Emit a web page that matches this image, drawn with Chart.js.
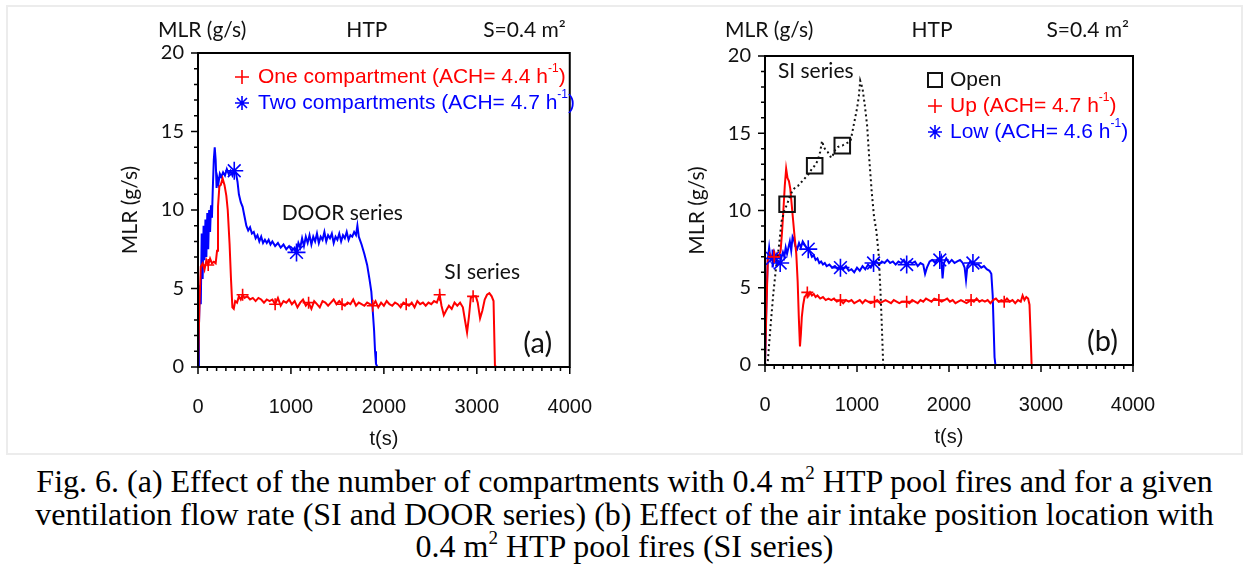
<!DOCTYPE html>
<html>
<head>
<meta charset="utf-8">
<script src="https://cdn.jsdelivr.net/npm/chart.js@4.4.0/dist/chart.umd.min.js"></script>
<style>
  html, body { margin: 0; padding: 0; background: #fff; }
  #fig { position: relative; width: 1249px; height: 567px; overflow: hidden; }
  #frame { position: absolute; left: 6px; top: 5px; width: 1233px; height: 446px; border: 2px solid #ececec; }
  canvas { position: absolute; top: 0; }
  #cA { left: 0; }
  #cB { left: 620px; }
  #caption { position: absolute; left: 0; top: 465px; width: 1249px; text-align: center;
    font-family: "Liberation Serif", "Times New Roman", serif; font-size: 32px; line-height: 32.5px; color: #000; }
  #caption sup { font-size: 19px; vertical-align: 13px; line-height: 0; }
</style>
</head>
<body>
<div id="fig">
  <div id="frame"></div>
  <canvas id="cA" width="620" height="455"></canvas>
  <canvas id="cB" width="629" height="455"></canvas>
  <div id="caption">Fig. 6. (a) Effect of the number of compartments with 0.4 m<sup>2</sup> HTP pool fires and for a given<br>ventilation flow rate (SI and DOOR series) (b) Effect of the air intake position location with<br>0.4 m<sup>2</sup> HTP pool fires (SI series)</div>
</div>
<script>
// (a) one compartment, red
const oneCompT = [0,15,30,50,70,90,110,130,150,170,190,205,215,230,245,265,285,305,320,340,355,370,385,400,420,440,460,480,500,530,560,590,620,650,680,710,740,770,800,830,860,890,920,950,980,1010,1040,1070,1100,1130,1160,1190,1220,1250,1280,1310,1340,1370,1400,1430,1460,1490,1520,1550,1580,1610,1640,1670,1700,1730,1760,1790,1820,1850,1880,1910,1940,1970,2000,2030,2060,2090,2120,2150,2180,2210,2240,2270,2300,2330,2360,2390,2420,2450,2480,2510,2540,2570,2600,2620,2645,2670,2700,2730,2760,2790,2820,2850,2875,2895,2915,2935,2960,2990,3010,3035,3060,3085,3110,3135,3160,3180,3195,3210,3380];
const oneCompV = [0,3.8,6.4,6.6,6.2,6.8,6.5,6.9,6.6,6.7,6.6,7.4,10.2,11.5,11.6,12.0,11.6,10.9,10.0,7.8,5.6,3.8,3.7,4.2,4.1,4.5,4.3,4.6,4.4,4.5,4.3,4.4,4.2,4.4,4.3,4.1,4.3,4.2,4.3,4.0,4.4,3.9,4.2,4.1,4.3,4.0,4.2,3.8,4.1,4.3,3.9,4.1,3.7,4.2,4.0,3.8,4.2,4.1,3.9,4.1,4.3,4.0,4.2,4.0,3.9,4.1,4.0,4.3,3.9,4.1,4.0,3.9,4.1,4.0,3.9,4.2,3.8,4.1,3.9,4.2,4.0,3.9,4.1,4.0,3.8,4.1,4.0,3.9,4.1,3.8,4.2,4.0,4.1,3.9,4.1,4.0,4.2,4.1,4.6,3.9,3.3,3.6,3.9,3.7,4.1,3.9,4.1,3.8,2.9,2.2,3.2,4.4,4.5,4.5,4.1,3.1,3.6,4.3,4.6,4.7,4.5,4.2,0.1,0,0];
const oneCompMarks = [110,480,830,1190,1550,1880,2240,2600,2960];

// (a) two compartments, blue
const twoCompT = [0,10,20,30,40,50,60,70,80,90,100,110,120,130,140,150,160,170,180,190,200,210,220,235,250,270,290,310,330,350,370,390,410,425,440,460,480,500,520,540,560,580,600,620,640,660,680,700,720,740,760,780,800,830,860,890,920,950,980,1010,1040,1060,1080,1100,1120,1140,1160,1180,1200,1220,1240,1260,1280,1300,1320,1340,1360,1380,1400,1420,1440,1460,1480,1500,1520,1540,1560,1580,1600,1620,1640,1660,1680,1700,1715,1730,1760,1790,1820,1845,1865,1880,1895,1905,1915,1930,1990];
const twoCompV = [0,2.5,5.2,4.0,8.5,5.6,9.0,6.8,9.4,7.0,9.8,7.5,10.0,8.6,10.3,9.5,11.5,13.2,14.0,13.2,11.4,12.0,11.7,12.3,12.1,12.4,12.2,12.6,12.3,12.5,12.2,12.5,12.3,11.8,11.0,10.5,10.2,9.6,9.0,8.7,8.9,8.5,8.6,8.2,8.4,8.0,8.3,7.9,8.1,7.9,8.1,7.8,8.0,7.7,7.9,7.6,7.8,7.5,7.7,7.4,7.6,7.3,7.9,7.6,8.2,7.7,8.3,7.9,8.4,7.8,8.3,8.0,8.5,7.9,8.3,8.1,8.6,8.0,8.4,8.2,8.5,7.9,8.3,8.1,8.5,8.0,8.4,8.2,8.6,8.1,8.4,8.3,8.6,8.4,9.0,8.3,7.8,7.2,6.5,5.6,4.8,3.6,2.3,1.0,0.2,0,0];
const twoCompMarks = [390,1060];

// (b) open, black dotted
const openT = [0,30,60,90,120,150,180,210,240,270,300,330,360,390,420,450,480,510,540,570,600,620,640,660,680,700,720,740,760,790,820,840,870,900,930,960,980,1000,1020,1035,1060,1085,1110,1135,1160,1185,1210,1235,1255,1270,1285];
const openV = [0,0.2,2.5,4.6,6.3,7.6,9.3,10.0,10.4,10.9,11.3,11.5,11.6,11.8,12.0,12.2,12.4,12.7,12.9,13.2,13.8,14.5,14.1,13.9,13.8,13.6,13.4,13.6,13.9,14.1,14.2,14.2,14.3,14.4,14.5,15.4,16.0,16.6,17.4,18.4,17.9,16.8,15.5,13.2,11.2,9.6,8.7,7.2,4.8,2.5,0];
const openMarks = [240,540,840];

// (b) up, red
const upT = [0,15,30,50,70,90,100,110,130,150,170,185,200,215,230,245,260,275,290,305,320,340,355,368,380,390,400,415,430,445,460,475,490,510,530,550,570,600,630,660,690,720,750,780,820,850,880,910,940,970,1000,1030,1060,1090,1120,1150,1190,1220,1250,1280,1310,1340,1370,1400,1430,1460,1490,1540,1570,1600,1630,1660,1690,1720,1750,1780,1810,1840,1890,1920,1950,1980,2010,2040,2070,2100,2130,2160,2190,2240,2270,2300,2330,2360,2390,2420,2450,2480,2510,2540,2570,2600,2630,2660,2690,2720,2750,2780,2800,2820,2840,2860,2875,2888,2898,3190];
const upV = [0,3.5,6.8,7.2,6.9,7.3,7.0,6.9,7.2,7.0,7.4,8.6,10.0,11.6,12.7,12.1,11.9,11.4,10.4,9.4,8.4,7.2,5.4,3.0,1.2,2.0,3.1,3.9,4.4,4.5,4.7,4.5,4.7,4.5,4.6,4.4,4.5,4.3,4.4,4.2,4.3,4.2,4.3,4.1,4.2,4.0,4.2,4.1,4.2,4.0,4.1,4.2,4.0,4.2,4.1,4.0,4.1,4.2,4.0,4.1,4.2,4.1,4.0,4.2,4.1,4.0,4.1,4.1,4.0,4.2,4.1,4.0,4.2,4.1,4.3,4.2,4.1,4.3,4.2,4.1,4.2,4.3,4.1,4.2,4.0,4.1,4.2,4.1,4.0,4.2,4.1,4.3,4.1,4.2,4.1,4.2,4.0,4.2,4.3,4.1,4.2,4.1,4.3,4.1,4.2,4.0,4.2,4.1,4.5,4.2,4.4,4.3,3.9,1.8,0,0];
const upMarks = [100,460,820,1190,1540,1890,2240,2600];

// (b) low, blue
const lowT = [0,15,30,45,60,75,80,90,105,120,135,150,165,180,195,210,225,240,255,270,285,300,315,330,350,370,390,410,430,450,470,490,510,530,550,570,590,610,630,650,670,700,730,760,790,820,850,880,910,940,970,1000,1030,1060,1090,1120,1150,1180,1210,1240,1270,1300,1330,1360,1390,1420,1450,1480,1510,1540,1570,1600,1630,1660,1690,1720,1740,1760,1790,1820,1850,1880,1900,1915,1930,1945,1970,2000,2030,2060,2090,2120,2150,2170,2185,2200,2230,2260,2290,2320,2350,2380,2410,2440,2460,2475,2485,2495,2505,2790];
const lowV = [0,4.0,6.8,7.6,6.8,7.0,6.9,6.6,7.2,6.8,6.5,6.7,6.6,7.0,7.3,7.0,7.6,7.2,7.6,8.0,7.4,8.3,8.1,7.7,7.5,7.9,7.6,8.0,7.8,7.6,7.5,7.3,7.0,7.1,6.8,6.9,6.6,6.7,6.5,6.6,6.4,6.5,6.3,6.4,6.2,6.3,6.2,6.4,6.1,6.2,6.0,6.3,6.1,6.4,6.2,6.5,6.3,6.6,6.7,6.5,6.7,6.6,6.8,6.6,6.7,6.5,6.7,6.6,6.8,6.5,6.7,6.6,6.7,6.4,6.6,6.5,5.9,6.3,6.7,6.8,6.6,6.9,6.8,7.0,5.6,6.6,6.9,6.6,6.8,6.6,6.7,6.8,6.6,6.3,5.5,6.4,6.7,6.6,6.5,6.5,6.3,6.4,6.2,6.1,5.9,4.5,2.5,0.5,0,0];
const lowMarks = [80,165,470,820,1180,1540,1900,2260];

const xTicks = [0, 1000, 2000, 3000, 4000];
const yTicks = [0, 5, 10, 15, 20];

const RED = '#ff0000', BLUE = '#0000ff', BLACK = '#111111';

function pts(ts, vs) { return ts.map((t, i) => ({ x: t, y: vs[i] })); }
function marks(ts, vs, at) {
  return at.map(t => {
    let k = 0;
    for (let i = 1; i < ts.length; i++) if (Math.abs(ts[i] - t) < Math.abs(ts[k] - t)) k = i;
    return { x: ts[k], y: vs[k] };
  });
}
function lineSet(ts, vs, color, order, dash) {
  return { data: pts(ts, vs), borderColor: color, borderWidth: 2, pointRadius: 0, tension: 0,
    borderDash: dash || [], order: order };
}
function markSet(ts, vs, at, color, style, r) {
  return { data: marks(ts, vs, at), showLine: false, pointStyle: style, pointRadius: r,
    pointBorderColor: color, pointBackgroundColor: 'rgba(0,0,0,0)', pointBorderWidth: style === 'rect' ? 2 : 1.6, order: 0 };
}

function drawMark(ctx, style, x, y, color) {
  ctx.strokeStyle = color; ctx.lineWidth = style === 'rect' ? 2 : 1.6;
  ctx.beginPath();
  if (style === 'rect') { ctx.rect(x - 7, y - 7, 14, 14); }
  else {
    ctx.moveTo(x - 7, y); ctx.lineTo(x + 7, y); ctx.moveTo(x, y - 7); ctx.lineTo(x, y + 7);
    if (style === 'star') { ctx.moveTo(x - 5, y - 5); ctx.lineTo(x + 5, y + 5); ctx.moveTo(x - 5, y + 5); ctx.lineTo(x + 5, y - 5); }
  }
  ctx.stroke();
}
function drawRich(ctx, x, y, parts, color) {
  ctx.fillStyle = color; ctx.textAlign = 'left'; ctx.textBaseline = 'middle';
  for (const [txt, sup] of parts) {
    ctx.font = sup ? '12px "Liberation Sans"' : '21px "Liberation Sans"';
    ctx.fillText(txt, x, sup ? y - 8 : y);
    x += ctx.measureText(txt).width;
  }
}

const decor = {
  id: 'decor',
  afterDatasetsDraw(chart, args, o) {
    const { ctx, chartArea: a, scales: { x, y } } = chart;
    ctx.save();
    ctx.strokeStyle = '#000'; ctx.lineWidth = 2;
    ctx.strokeRect(a.left, a.top, a.right - a.left, a.bottom - a.top);
    ctx.lineWidth = 1.5; ctx.beginPath();
    for (let v = 0; v <= 20; v++) {
      const py = y.getPixelForValue(v), L = v % 5 ? 4 : 7;
      ctx.moveTo(a.left - L, py); ctx.lineTo(a.left, py);
    }
    for (let t = 0; t <= 4000; t += 100) {
      const px = x.getPixelForValue(t), L = t % 1000 ? 4 : 7;
      ctx.moveTo(px, a.bottom); ctx.lineTo(px, a.bottom + L);
    }
    ctx.stroke();

    ctx.fillStyle = '#111'; ctx.textBaseline = 'middle';
    ctx.font = '21px Lato';
    ctx.textAlign = 'left'; ctx.fillText('MLR (g/s)', a.left - 40, 30);
    ctx.textAlign = 'center'; ctx.fillText('HTP', (a.left + a.right) / 2 - 17, 30);
    ctx.textAlign = 'right'; ctx.fillText('S=0.4 m\u00b2', a.right - 4, 30);

    ctx.save();
    ctx.translate(a.left - 68, (a.top + a.bottom) / 2); ctx.rotate(-Math.PI / 2);
    ctx.textAlign = 'center'; ctx.fillText('MLR (g/s)', 0, 0);
    ctx.restore();

    ctx.font = '20px "Liberation Sans"'; ctx.textAlign = 'center';
    ctx.fillText('t(s)', (a.left + a.right) / 2, a.bottom + 72);

    for (const n of o.notes) {
      ctx.font = n.font || '21px Lato'; ctx.textAlign = 'left'; ctx.fillStyle = '#111';
      ctx.fillText(n.text, x.getPixelForValue(n.x), y.getPixelForValue(n.y));
    }
    o.legend.forEach((it, i) => {
      const py = a.top + o.legendTop + i * 26;
      drawMark(ctx, it.mark, a.left + o.markX, py, it.color);
      drawRich(ctx, a.left + o.textX, py, it.parts, it.color);
    });
    ctx.restore();
  }
};

function makeChart(id, datasets, yWidth, xHeight, pad, deco) {
  return new Chart(document.getElementById(id), {
    type: 'line',
    data: { datasets: datasets },
    plugins: [decor],
    options: {
      responsive: false, animation: false,
      layout: { padding: pad },
      plugins: { legend: { display: false }, tooltip: { enabled: false }, decor: deco },
      scales: {
        x: { type: 'linear', min: xTicks[0], max: xTicks[xTicks.length - 1],
          grid: { display: false, drawTicks: false }, border: { display: false },
          afterFit: s => { s.height = xHeight; },
          afterBuildTicks: s => { s.ticks = xTicks.map(v => ({ value: v })); },
          ticks: { padding: 28, color: '#111', font: { family: 'Liberation Sans', size: 20 }, maxRotation: 0,
            callback: v => String(v) } },
        y: { min: yTicks[0], max: yTicks[yTicks.length - 1],
          grid: { display: false, drawTicks: false }, border: { display: false },
          afterFit: s => { s.width = yWidth; },
          afterBuildTicks: s => { s.ticks = yTicks.map(v => ({ value: v })); },
          ticks: { padding: 14, color: '#111', font: { family: 'Lato', size: 20 }, callback: v => String(v) } }
      }
    }
  });
}

makeChart('cA', [
  markSet(oneCompT, oneCompV, oneCompMarks, RED, 'cross', 6),
  markSet(twoCompT, twoCompV, twoCompMarks, BLUE, 'star', 9),
  lineSet(oneCompT, oneCompV, RED, 2),
  lineSet(twoCompT, twoCompV, BLUE, 3)
], 198, 88, { top: 53, right: 47, bottom: 0, left: 0 }, {
  markX: 44, textX: 60, legendTop: 24,
  legend: [
    { mark: 'cross', color: RED, parts: [['One compartment (ACH= 4.4 h'], ['-1', true], [')']] },
    { mark: 'star', color: BLUE, parts: [['Two compartments (ACH= 4.7 h'], ['-1', true], [')']] }
  ],
  notes: [
    { text: 'DOOR series', x: 900, y: 9.8 },
    { text: 'SI series', x: 2650, y: 6.05 },
    { text: '(a)', x: 3500, y: 1.5, font: '29px Lato' }
  ]
});

makeChart('cB', [
  markSet(openT, openV, openMarks, BLACK, 'rect', 11),
  markSet(upT, upV, upMarks, RED, 'cross', 6),
  markSet(lowT, lowV, lowMarks, BLUE, 'star', 9),
  lineSet(openT, openV, BLACK, 1, [2, 3]),
  lineSet(upT, upV, RED, 2),
  lineSet(lowT, lowV, BLUE, 3)
], 145, 90, { top: 56, right: 116, bottom: 0, left: 0 }, {
  markX: 170, textX: 185, legendTop: 24,
  legend: [
    { mark: 'rect', color: BLACK, parts: [['Open']] },
    { mark: 'cross', color: RED, parts: [['Up (ACH= 4.7 h'], ['-1', true], [')']] },
    { mark: 'star', color: BLUE, parts: [['Low (ACH= 4.6 h'], ['-1', true], [')']] }
  ],
  notes: [
    { text: 'SI series', x: 140, y: 19.0 },
    { text: '(b)', x: 3500, y: 1.5, font: '29px Lato' }
  ]
});
</script>
</body>
</html>
